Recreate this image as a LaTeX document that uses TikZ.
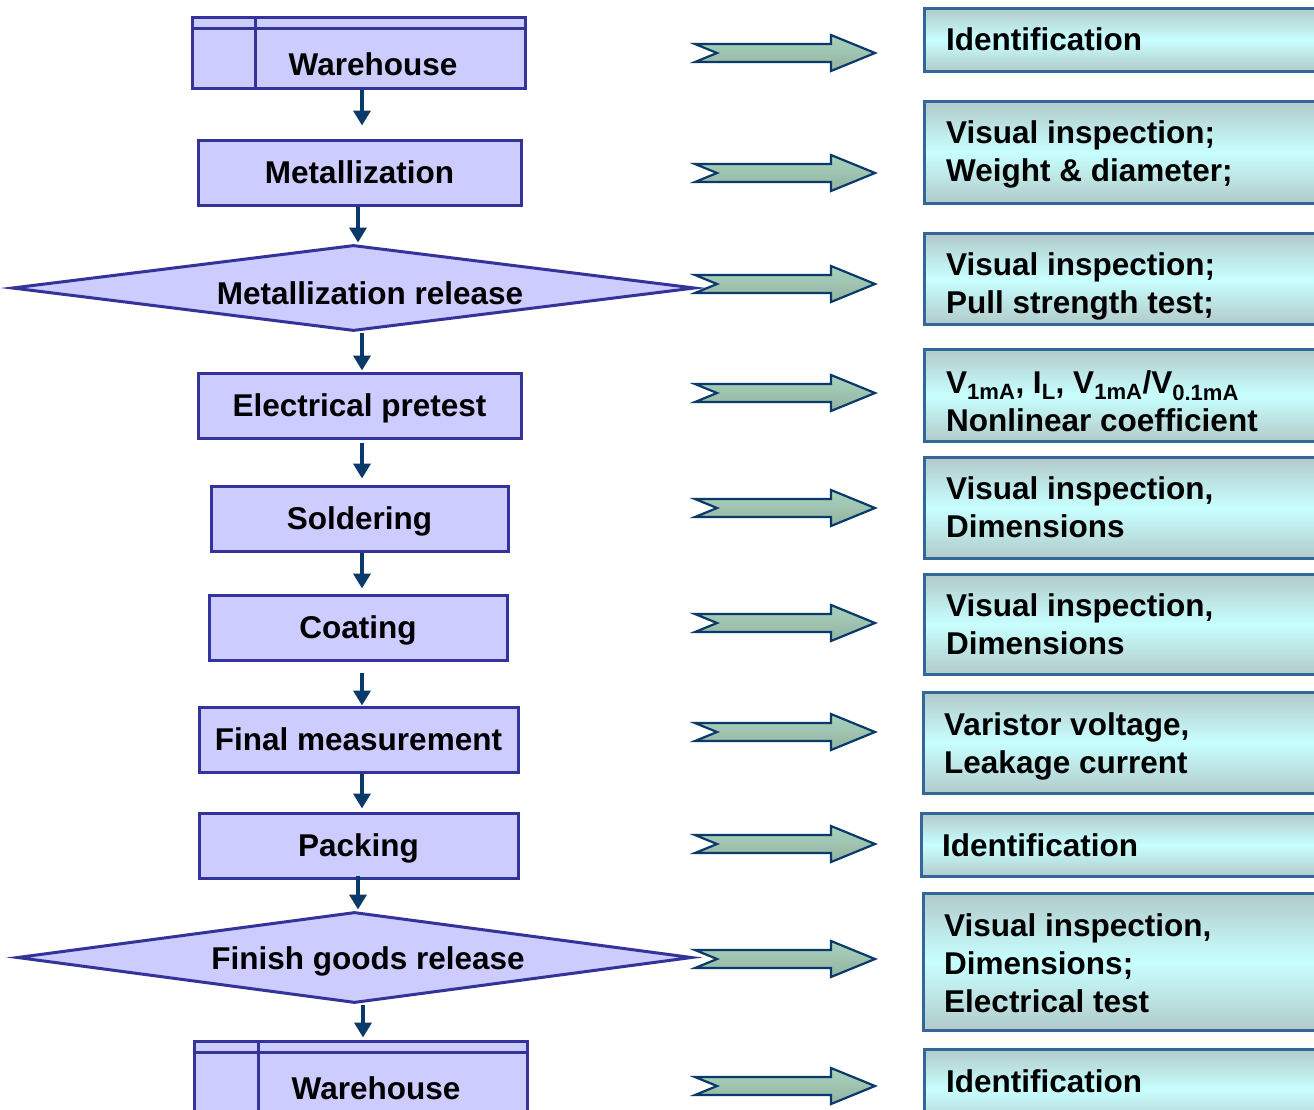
\documentclass[tikz,border=0pt]{standalone}
\usepackage{fontspec}
\setmainfont{Liberation Sans}
\usetikzlibrary{shapes.geometric,arrows.meta}
\definecolor{lav}{HTML}{CCCCFF}
\definecolor{frame}{HTML}{333399}
\definecolor{navy}{HTML}{0A3A6A}
\definecolor{rframe}{HTML}{336699}
\definecolor{rtop}{HTML}{B2CACA}
\definecolor{rmid}{HTML}{C8FFFF}
\definecolor{gtop}{HTML}{A8D4BC}
\definecolor{gbot}{HTML}{94B2A2}
\tikzset{
  txt/.style={font=\fontsize{31.5}{38}\selectfont\bfseries, text=black, inner sep=0pt, align=left},
  proc/.style={draw=frame, fill=lav, line width=3pt, rectangle, minimum height=65pt, inner sep=0pt, text height=22.5pt, text depth=0pt, font=\fontsize{31.5}{38}\selectfont\bfseries},
  dia/.style={draw=frame, fill=lav, line width=3pt, diamond, inner sep=0pt},
  innerline/.style={draw=frame, line width=3pt},
  flow/.style={draw=navy, line width=3.8pt, -{Triangle[width=17pt,length=15pt]}},
  rbox/.style={draw=rframe, line width=3pt, rectangle, anchor=north west, minimum width=430pt, top color=rtop, bottom color=rtop, middle color=rmid},
  barrow/.style={draw=navy, line width=2.2pt, top color=gtop, bottom color=gbot, line join=miter},
  blockarrow/.pic={\path[barrow] (0,-9) -- (136,-9) -- (136,-18) -- (180,0) -- (136,18) -- (136,9) -- (0,9) -- (22,0) -- cycle;}
}
\begin{document}
\begin{tikzpicture}[x=1pt,y=-1pt]
\path[use as bounding box] (0,0) rectangle (1314,1109);
\clip (0,0) rectangle (1314,1109);
% left column
\node[proc, minimum width=333pt, minimum height=71pt] (wh1) at (358.5,52.5) {};
\draw[innerline] ([yshift=-13pt]wh1.north west) -- ([yshift=-13pt]wh1.north east);
\draw[innerline] ([xshift=65pt]wh1.north west) -- ([xshift=65pt]wh1.south west);
\node[txt] (wh1t) at (373,64) {Warehouse};
\node[proc, minimum width=323pt] (met) at (359.5,172.5) {Metallization};
\node[dia, minimum width=683pt, minimum height=86pt] (mr) at (353.5,288) {};
\node[txt] (mrt) at (370,293) {Metallization release};
\node[proc, minimum width=323pt] (ep) at (359.5,405.5) {Electrical pretest};
\node[proc, minimum width=297pt] (sol) at (359.5,518.5) {Soldering};
\node[proc, minimum width=298pt] (coat) at (358,627.5) {Coating};
\node[proc, minimum width=319pt] (fm) at (358.5,739.5) {Final measurement};
\node[proc, minimum width=319pt] (pk) at (358.5,845.5) {Packing};
\node[dia, minimum width=675pt, minimum height=91pt] (fg) at (354.5,957.5) {};
\node[txt] (fgt) at (368,961) {Finish goods release};
\node[proc, minimum width=333pt, minimum height=71pt] (wh2) at (360.5,1076.5) {};
\draw[innerline] ([yshift=-13pt]wh2.north west) -- ([yshift=-13pt]wh2.north east);
\draw[innerline] ([xshift=66pt]wh2.north west) -- ([xshift=66pt]wh2.south west);
\node[txt] (wh2t) at (376,1088) {Warehouse};
% flow arrows
\draw[flow] ([xshift=3.5pt]wh1.south) -- ([xshift=2.5pt,yshift=13pt]met.north);
\draw[flow] ([xshift=-1.5pt]met.south) -- ([xshift=4.5pt,yshift=1pt]mr.north);
\draw[flow] ([xshift=8.5pt]mr.south) -- ([xshift=2.5pt,yshift=1pt]ep.north);
\draw[flow] ([xshift=2.5pt,yshift=-3pt]ep.south) -- ([xshift=2.5pt,yshift=6pt]sol.north);
\draw[flow] ([xshift=2.5pt]sol.south) -- ([xshift=4pt,yshift=5pt]coat.north);
\draw[flow] ([xshift=4pt,yshift=-11pt]coat.south) -- ([xshift=3.5pt]fm.north);
\draw[flow] ([xshift=3.5pt]fm.south) -- ([xshift=3.5pt,yshift=3pt]pk.north);
\draw[flow] ([xshift=-0.5pt,yshift=4pt]pk.south) -- ([xshift=3.5pt,yshift=1pt]fg.north);
\draw[flow] ([xshift=8.5pt]fg.south) -- ([xshift=2.5pt,yshift=2pt]wh2.north);
% block arrows
\foreach \yc in {53,173,284,393,508,623,732,844,959,1086}
  \pic at (695,\yc) {blockarrow};
% right boxes
\node[rbox, minimum height=63pt] (r1) at (923,7) {};
\node[rbox, minimum height=102pt] (r2) at (923,100) {};
\node[rbox, minimum height=91pt] (r3) at (923,232) {};
\node[rbox, minimum height=92pt] (r4) at (923,348) {};
\node[rbox, minimum height=101pt] (r5) at (923,456) {};
\node[rbox, minimum height=100pt] (r6) at (923,573) {};
\node[rbox, minimum height=101pt] (r7) at (922,691) {};
\node[rbox, minimum height=63pt] (r8) at (920,812) {};
\node[rbox, minimum height=137pt] (r9) at (922,892) {};
\node[rbox, minimum height=80pt] (r10) at (923,1048) {};
\node[txt, anchor=west] (t1) at (946,39) {Identification};
\node[txt, anchor=west] (t2) at (946,154) {Visual inspection;\\Weight \& diameter;};
\node[txt, anchor=west] (t3) at (946,286) {Visual inspection;\\Pull strength test;};
\node[txt, anchor=west] (t4) at (946,401) {V\textsubscript{1mA}, I\textsubscript{L}, V\textsubscript{1mA}/V\textsubscript{0.1mA}\\Nonlinear coefficient};
\node[txt, anchor=west] (t5) at (946,507.5) {Visual inspection,\\Dimensions};
\node[txt, anchor=west] (t6) at (946,624) {Visual inspection,\\Dimensions};
\node[txt, anchor=west] (t7) at (944,746) {Varistor voltage,\\Leakage current};
\node[txt, anchor=west] (t8) at (942,845) {Identification};
\node[txt, anchor=west] (t9) at (944,963) {Visual inspection,\\Dimensions;\\Electrical test};
\node[txt, anchor=west] (t10) at (946,1081) {Identification};
\end{tikzpicture}
\end{document}
